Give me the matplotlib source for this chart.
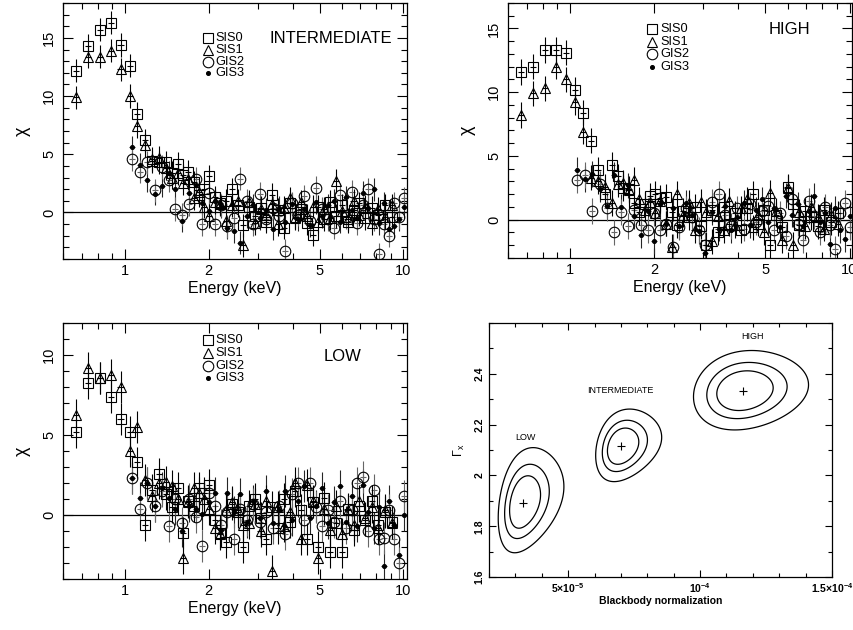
import numpy as np
import matplotlib.pyplot as plt
from matplotlib.ticker import FixedLocator, MultipleLocator, NullFormatter

plt.rcParams['font.family'] = ['Liberation Sans', 'DejaVu Sans']
plt.rcParams['mathtext.default'] = 'regular'

# energy bins (keV) for the SIS and GIS spectra
e_sis = [0.67, 0.74, 0.815, 0.89, 0.965, 1.04, 1.11, 1.185, 1.255, 1.33,
         1.41, 1.48, 1.55, 1.62, 1.69, 1.77, 1.85, 1.93, 2.01, 2.10,
         2.20, 2.31, 2.42, 2.54, 2.66, 2.79, 2.93, 3.07, 3.22, 3.38,
         3.55, 3.72, 3.90, 4.09, 4.29, 4.50, 4.72, 4.95, 5.19, 5.45,
         5.72, 6.00, 6.30, 6.62, 6.95, 7.30, 7.70, 8.10, 8.60, 9.10]
e_gis = [1.06, 1.13, 1.20, 1.28, 1.36, 1.44, 1.52, 1.61, 1.70, 1.80,
         1.90, 2.00, 2.10, 2.21, 2.33, 2.46, 2.60, 2.74, 2.89, 3.05,
         3.22, 3.40, 3.58, 3.77, 3.97, 4.18, 4.40, 4.63, 4.87, 5.12,
         5.38, 5.65, 5.93, 6.22, 6.52, 6.83, 7.15, 7.48, 7.82, 8.17,
         8.53, 8.90, 9.28, 9.67, 10.05]

# residuals (data - model) / sigma
int_sis0 = [12.2, 14.3, 15.7, 16.3, 14.4, 12.6, 8.5, 6.2, 4.4, 4.3,
            4.3, 3.4, 4.2, 3.2, 3.5, 2.6, 1.5, 2.0, 3.1, 1.3,
            0.8, 1.0, 2.0, 0.6, -1.1, 0.5, -0.3, 0.4, -0.8, 1.5,
            0.2, -1.3, 0.8, -0.4, 0.3, -0.9, -1.9, 0.5, -0.6, 0.9,
            -0.3, 0.6, -0.8, 0.2, 0.8, -0.5, 0.4, -0.2, 0.6, -0.4]
int_sis1 = [9.9, 13.4, 13.4, 13.9, 12.3, 10.0, 7.4, 5.8, 4.6, 4.7,
            3.8, 3.0, 3.4, 2.5, 2.9, 1.2, 1.8, 0.5, -0.3, 0.9,
            0.7, -0.7, 0.6, 1.0, -2.8, 0.9, -0.9, 0.3, -0.2, 0.7,
            -1.0, 0.4, 1.2, -0.5, 0.9, -0.3, 0.5, -0.8, 0.3, -0.5,
            2.7, 0.1, -0.6, 1.0, -0.2, 0.5, -0.9, 0.3, -0.4, 0.6]
int_gis2 = [4.6, 3.5, 4.3, 1.9, 3.9, 2.8, 0.3, -0.2, 0.7, 2.9,
            -1.0, 1.7, -1.0, 0.6, -1.2, -0.5, 2.9, 1.0, -1.0, 1.6,
            -0.6, 0.4, -0.3, -3.3, 0.8, -0.2, 1.4, -0.7, 2.1, 0.3,
            -0.6, -1.3, 1.5, -0.4, 1.8, -0.9, 0.6, 2.0, -0.6, -3.6,
            -1.0, -2.0, 0.8, -0.4, 1.2]
int_gis3 = [5.6, 4.1, 2.8, 1.6, 2.3, 3.4, 2.0, -0.7, 1.7, 2.4,
            0.8, 0.1, 1.0, 0.5, -1.3, -1.6, -2.6, -0.3, 0.6, -0.5,
            0.2, -1.4, 0.4, -0.8, 0.7, -0.6, 0.3, -1.1, 0.9, -0.3,
            0.6, 1.0, -0.8, 1.3, 0.2, -0.5, 1.7, 0.4, 2.0, -0.9,
            0.8, -1.4, -1.2, -0.6, 0.5]

high_sis0 = [11.6, 12.0, 13.3, 13.3, 13.1, 10.2, 8.4, 6.2, 3.9, 2.0,
             4.3, 3.4, 2.5, 2.4, 1.3, 0.6, 1.2, 1.9, 2.0, 1.7,
             1.8, 0.6, -0.4, 0.7, 0.2, 1.0, -0.5, -2.0, 0.8, -1.0,
             1.0, -0.3, 0.5, -0.8, 0.9, 2.0, -0.3, 0.8, -2.0, 0.4,
             -0.6, 2.6, 1.2, -0.4, 0.7, 0.2, -0.5, 0.8, -0.2, 0.5]
high_sis1 = [8.2, 9.9, 10.3, 12.0, 11.0, 9.2, 6.9, 3.3, 3.0, 2.6,
             1.3, 2.8, 2.9, 2.3, 3.1, 1.6, 0.8, 1.4, 0.5, 1.5,
             -0.3, -2.1, 2.0, 0.4, 1.3, -0.8, 1.4, 0.6, -1.7, 0.3,
             -0.8, 1.5, -0.4, 0.9, 1.6, -0.6, 0.4, -1.0, 2.1, 0.7,
             -1.6, 2.5, -2.0, 0.6, -0.5, 1.0, 0.2, -0.7, 0.4, -0.3]
high_gis2 = [3.1, 3.5, 0.7, 2.8, 0.9, -1.0, 0.6, -0.5, 0.8, -0.4,
             -0.8, 0.5, -0.8, -0.3, -2.1, -0.6, 0.9, 0.2, -0.8, -2.0,
             1.4, 2.0, 0.4, -0.5, 0.9, -0.7, 1.2, -0.2, 0.7, 1.1,
             -0.8, 0.5, -1.3, 1.6, -0.3, -1.6, 1.5, 0.3, -1.0, 1.0,
             -0.4, -2.3, 0.5, 1.3, -0.6]
high_gis3 = [3.9, 3.2, 3.6, 2.4, 1.1, 3.5, 1.0, 2.7, 0.3, -1.2,
             0.7, -1.7, 1.2, -0.3, 0.9, -0.5, 1.3, 0.4, -0.9, -2.6,
             0.6, -0.7, 1.1, -0.8, 0.2, 1.3, -0.4, 0.8, 1.6, -0.2,
             0.9, -0.6, 1.9, 0.4, 1.2, -0.5, 0.7, 1.9, -0.2, 0.5,
             -1.9, 0.9, -0.8, -1.5, 0.3]

low_sis0 = [5.2, 8.3, 8.6, 7.4, 6.0, 5.2, 3.3, -0.6, 1.6, 2.6,
            1.3, 0.5, 1.7, -1.1, 0.9, 0.6, 1.7, 1.4, 1.9, -0.3,
            -1.1, -1.7, 0.7, 0.2, -2.0, 0.6, 1.0, -0.2, -1.5, 0.5,
            -0.8, 1.0, -0.4, 1.5, 0.3, -1.5, 0.8, -2.0, 1.1, -2.3,
            -0.5, -2.3, 0.4, -0.9, 0.6, -0.3, 0.9, -0.6, 0.2, -0.4]
low_sis1 = [6.3, 9.2, 8.6, 8.8, 8.0, 4.0, 5.5, 2.2, 1.2, 2.0,
            2.1, 1.8, 1.0, -2.7, 0.8, 1.7, 1.4, 1.0, 0.4, -0.8,
            -1.2, 0.3, 0.8, 0.3, -0.6, -0.5, 0.7, -1.0, 0.9, -3.5,
            0.5, -0.7, 0.2, 2.0, -1.5, 1.9, 0.9, -2.7, 0.4, -0.9,
            0.6, -1.2, 0.3, -0.6, 0.9, -0.2, 0.5, -0.8, 0.3, -0.5]
low_gis2 = [2.3, 0.4, 2.0, 0.6, 1.5, -0.7, 1.0, -0.5, 1.0, -0.1,
            -1.9, 1.4, 0.6, -0.6, 0.2, -1.5, 0.4, -0.3, 0.7, -0.4,
            0.2, -0.8, 0.6, -1.2, 1.3, 2.0, -0.3, 2.0, 0.5, -0.7,
            0.3, -0.4, 0.9, -0.8, 0.3, 2.0, 2.4, -1.0, 1.6, -1.5,
            -1.4, 0.3, -1.5, -3.0, 1.2]
low_gis3 = [2.3, 1.1, 2.0, 0.6, 1.7, 1.1, 0.4, -1.0, 0.6, 0.4,
            0.1, 0.8, 1.4, -0.9, 1.4, 0.2, 1.3, -0.4, 0.9, -0.2,
            1.5, -0.5, 0.3, 1.5, -0.3, 0.9, 1.8, -0.2, 0.6, 1.7,
            -0.5, 0.8, 1.8, -0.4, 1.2, -0.7, 1.9, 0.2, -0.8, 0.5,
            -3.2, 0.9, -0.6, -2.5, 0.0]

# best fits and error shapes in the (blackbody norm, photon index) plane
states = ['LOW', 'INTERMEDIATE', 'HIGH']
bb_norm = [3.30e-5, 7.02e-5, 1.163e-4]
gamma_x = [1.893, 2.114, 2.333]
bb_sigma = [0.38e-5, 0.386e-5, 0.70e-5]
gamma_sigma = [0.068, 0.047, 0.0515]
bb_skew = [0.15, 0.14, 0.09]
gamma_skew = [0.03, 0.02, 0.01]
corr = [0.30, 0.25, 0.15]
dchi2_levels = [2.30, 4.61, 9.21]

bin_frac = 0.025   # half width of an energy bin, relative


def residual_panel(ax, sis0, sis1, gis2, gis3, ylim, title, title_xy, leg_xy, leg_dy):
    ax.set_xscale('log')
    ax.axhline(0, color='k', lw=0.9, zorder=1)
    es = np.array(e_sis)
    eg = np.array(e_gis)
    common = dict(yerr=1.0, capsize=0, elinewidth=0.8, mew=0.8)
    ax.errorbar(eg, gis3, xerr=eg * bin_frac, fmt='o', ms=2.8, mfc='k', mec='k',
                ecolor='0.15', **common)
    ax.errorbar(eg, gis2, xerr=eg * bin_frac, fmt='o', ms=7.6, mfc='none', mec='k',
                ecolor='0.4', **common)
    ax.errorbar(es, sis1, xerr=es * bin_frac, fmt='^', ms=7.4, mfc='none', mec='k',
                ecolor='k', **common)
    ax.errorbar(es, sis0, xerr=es * bin_frac, fmt='s', ms=6.8, mfc='none', mec='k',
                ecolor='k', **common)

    ax.set_xlim(0.6, 10.3)
    ax.set_ylim(*ylim)
    ax.xaxis.set_major_locator(FixedLocator([1, 2, 5, 10]))
    ax.xaxis.set_major_formatter(plt.FixedFormatter(['1', '2', '5', '10']))
    ax.xaxis.set_minor_locator(FixedLocator([0.6, 0.7, 0.8, 0.9, 3, 4, 6, 7, 8, 9]))
    ax.xaxis.set_minor_formatter(NullFormatter())
    ax.yaxis.set_major_locator(MultipleLocator(5))
    ax.yaxis.set_minor_locator(MultipleLocator(1))
    ax.tick_params(which='both', direction='in', top=True, right=True, width=0.8)
    ax.tick_params(which='major', length=7, labelsize=10.5)
    ax.tick_params(which='minor', length=4)
    ax.tick_params(axis='y', labelrotation=90, pad=5)
    for lab in ax.get_yticklabels():
        lab.set_va('center')
    for sp in ax.spines.values():
        sp.set_linewidth(0.9)
    ax.set_xlabel('Energy (keV)', fontsize=11.5, labelpad=2)
    ax.set_ylabel('χ', fontsize=13, labelpad=8)

    ax.text(title_xy[0], title_xy[1], title, transform=ax.transAxes, ha='right',
            va='center', fontsize=12)

    # instrument key
    keys = [('SIS0', 's', 6.8, 'none'), ('SIS1', '^', 7.4, 'none'),
            ('GIS2', 'o', 7.6, 'none'), ('GIS3', 'o', 2.8, 'k')]
    for i, (name, mk, ms, fc) in enumerate(keys):
        y = leg_xy[1] - i * leg_dy
        ax.plot([leg_xy[0]], [y], mk, ms=ms, mfc=fc, mec='k', mew=0.8,
                transform=ax.transAxes, clip_on=False)
        ax.text(leg_xy[0] + 0.022, y, name, transform=ax.transAxes, ha='left',
                va='center', fontsize=9.2)


fig = plt.figure(figsize=(8.54, 6.3), dpi=100)
ax1 = fig.add_axes([0.0738, 0.5889, 0.4028, 0.4063])
ax2 = fig.add_axes([0.5948, 0.5905, 0.4028, 0.4048])
ax3 = fig.add_axes([0.0738, 0.0805, 0.4028, 0.4063])
ax4 = fig.add_axes([0.5726, 0.0841, 0.4016, 0.4032])

residual_panel(ax1, int_sis0, int_sis1, int_gis2, int_gis3, (-4, 18),
               'INTERMEDIATE', (0.956, 0.863), (0.42, 0.863), 0.046)
residual_panel(ax2, high_sis0, high_sis1, high_gis2, high_gis3, (-3, 17),
               'HIGH', (0.878, 0.894), (0.42, 0.898), 0.05)
ax2.set_xlim(0.6, 10.2)
residual_panel(ax3, low_sis0, low_sis1, low_gis2, low_gis3, (-4, 12),
               'LOW', (0.869, 0.87), (0.42, 0.935), 0.05)

# confidence contours
bx = np.linspace(2e-5, 1.5e-4, 600)
gy = np.linspace(1.6, 2.6, 600)
X, Y = np.meshgrid(bx, gy)
label_offset = [(0.09e-5, 0.255), (-0.04e-5, 0.222), (0.36e-5, 0.212)]
for i, name in enumerate(states):
    t = (X - bb_norm[i]) / bb_sigma[i]
    s = (Y - gamma_x[i]) / gamma_sigma[i]
    u = (1 - np.exp(-bb_skew[i] * t)) / bb_skew[i]
    v = (1 - np.exp(-gamma_skew[i] * s)) / gamma_skew[i]
    r = corr[i]
    dchi2 = (u ** 2 + v ** 2 - 2 * r * u * v) / (1 - r ** 2)
    ax4.contour(X, Y, dchi2, levels=dchi2_levels, colors='k', linewidths=0.9)
    ax4.plot(bb_norm[i], gamma_x[i], '+', color='k', ms=6, mew=0.8)
    ax4.text(bb_norm[i] + label_offset[i][0], gamma_x[i] + label_offset[i][1], name,
             ha='center', va='center', fontsize=6.5)

ax4.set_xlim(2e-5, 1.5e-4)
ax4.set_ylim(1.6, 2.6)
ax4.xaxis.set_major_locator(FixedLocator([5e-5, 1e-4, 1.5e-4]))
ax4.xaxis.set_major_formatter(plt.FixedFormatter(['5×10$^{-5}$', '10$^{-4}$', '1.5×10$^{-4}$']))
ax4.xaxis.set_minor_locator(MultipleLocator(1e-5))
ax4.yaxis.set_major_locator(FixedLocator([1.6, 1.8, 2.0, 2.2, 2.4]))
ax4.yaxis.set_major_formatter(plt.FixedFormatter(['1.6', '1.8', '2', '2.2', '2.4']))
ax4.yaxis.set_minor_locator(MultipleLocator(0.1))
ax4.tick_params(which='both', direction='in', top=True, right=True, width=0.8)
ax4.tick_params(which='major', length=5, labelsize=7.5, pad=3)
ax4.tick_params(which='minor', length=3)
ax4.tick_params(axis='y', labelrotation=90)
for lab in ax4.get_yticklabels() + ax4.get_xticklabels():
    lab.set_fontweight('bold')
for lab in ax4.get_yticklabels():
    lab.set_va('center')
for sp in ax4.spines.values():
    sp.set_linewidth(0.9)
ax4.set_xlabel('Blackbody normalization', fontsize=7.5, fontweight='bold', labelpad=1)
ax4.set_ylabel(r'$\Gamma_x$', fontsize=9, labelpad=6)

fig.savefig('out.png', dpi=100)
